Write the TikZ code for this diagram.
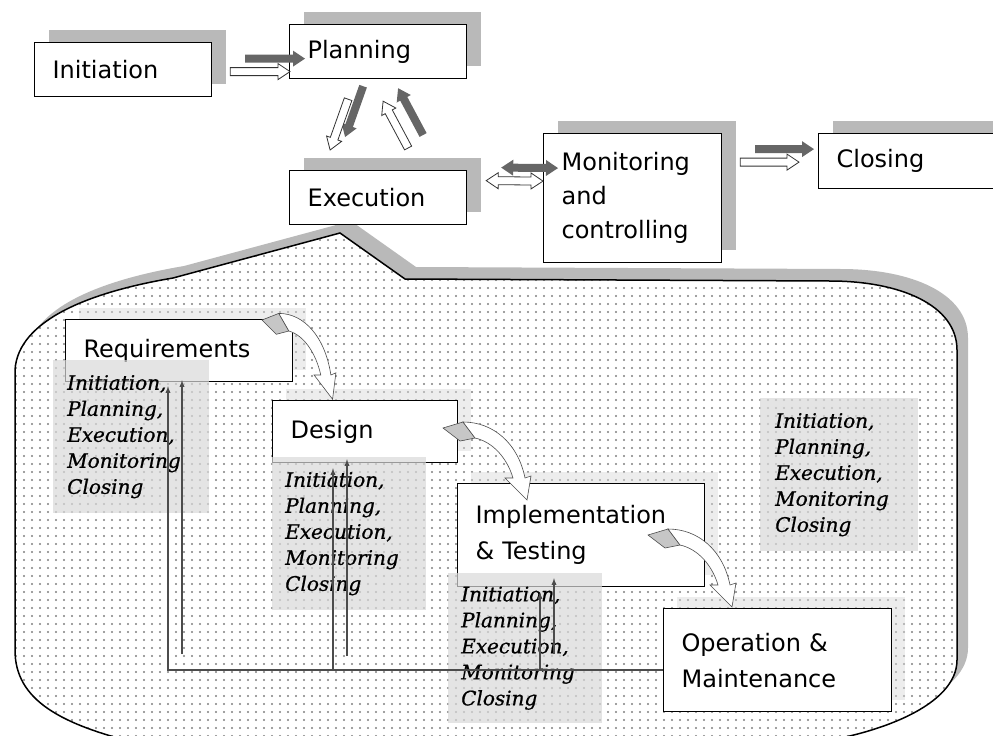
\documentclass[tikz,border=0pt]{standalone}
\usepackage{fontspec}
\setmainfont{DejaVu Sans}
\newfontfamily\phasefont[FakeBold=0.8]{DejaVu Serif}
\usepackage{xcolor}
\usetikzlibrary{calc,shadows,patterns.meta}

\newcommand{\phaselist}{Initiation,\\Planning,\\Execution,\\Monitoring\\Closing}

\tikzset{
  stage/.style={draw, fill=white, line width=1.2pt, anchor=north west,
    inner xsep=18pt, inner ysep=0pt, align=left, font=\fontsize{24}{36}\selectfont},
  topstage/.style={stage, drop shadow={shadow xshift=14pt, shadow yshift=13pt, fill=gray!55, opacity=1}},
  lowstage/.style={stage, drop shadow={shadow xshift=13pt, shadow yshift=12pt, fill=gray!30, opacity=0.45}},
  phases/.style={anchor=north west, fill=gray!30, fill opacity=0.7, text opacity=1,
    inner xsep=14pt, inner ysep=0pt, text width=128pt, minimum height=153pt, align=left,
    font=\phasefont\itshape\fontsize{20}{26}\selectfont},
  fbline/.style={draw=black!70, line width=1.3pt},
  arrowshadow/.style={preaction={fill=black!60, draw=none, transform canvas={shift={(15pt,13pt)}}}},
  blockarrow/.style={draw=black!80, fill=white, line width=0.8pt, arrowshadow,
    to path={
      -- ($(\tikztostart)!4pt!90:(\tikztotarget)$)
      -- ($($(\tikztotarget)!12pt!(\tikztostart)$)!4pt!90:(\tikztotarget)$)
      -- ($($(\tikztotarget)!12pt!(\tikztostart)$)!8pt!90:(\tikztotarget)$)
      -- (\tikztotarget)
      -- ($($(\tikztotarget)!12pt!(\tikztostart)$)!8pt!-90:(\tikztotarget)$)
      -- ($($(\tikztotarget)!12pt!(\tikztostart)$)!4pt!-90:(\tikztotarget)$)
      -- ($(\tikztostart)!4pt!-90:(\tikztotarget)$) -- cycle}},
  blockdarrow/.style={draw=black!80, fill=white, line width=0.8pt, arrowshadow,
    to path={
      -- ($($(\tikztostart)!12pt!(\tikztotarget)$)!8pt!90:(\tikztotarget)$)
      -- ($($(\tikztostart)!12pt!(\tikztotarget)$)!4pt!90:(\tikztotarget)$)
      -- ($($(\tikztotarget)!12pt!(\tikztostart)$)!4pt!90:(\tikztotarget)$)
      -- ($($(\tikztotarget)!12pt!(\tikztostart)$)!8pt!90:(\tikztotarget)$)
      -- (\tikztotarget)
      -- ($($(\tikztotarget)!12pt!(\tikztostart)$)!8pt!-90:(\tikztotarget)$)
      -- ($($(\tikztotarget)!12pt!(\tikztostart)$)!4pt!-90:(\tikztotarget)$)
      -- ($($(\tikztostart)!12pt!(\tikztotarget)$)!4pt!-90:(\tikztotarget)$)
      -- ($($(\tikztostart)!12pt!(\tikztotarget)$)!8pt!-90:(\tikztotarget)$)
      -- cycle}},
  turnarrow/.pic={
    \filldraw[fill=gray!45, draw=black!70, line width=0.6pt] (0,0) -- (20,-6) -- (32,10) -- (17,13) -- cycle;
    \filldraw[fill=white, draw=black!70, line width=0.6pt] (20,-6) .. controls (50,-6) and (75,15) .. (82,50)
      -- (88,48) -- (84,72) -- (62,50) -- (70,50) .. controls (64,30) and (50,14) .. (32,10) -- cycle;
  },
}

% outline of the software life cycle area
\def\lifecycle{(15,370) -- (15,650) .. controls (15,700) and (60,725) .. (145,745) -- (800,745)
  .. controls (880,735) and (957,705) .. (957,660) -- (957,350) .. controls (957,305) and (900,281) .. (830,281)
  -- (405,279) -- (340,233) -- (173,278) .. controls (90,292) and (18,320) .. (15,370) -- cycle}

\begin{document}
\begin{tikzpicture}[x=1pt, y=-1pt]
  \useasboundingbox (0,0) rectangle (993,736);
  \clip (0,0) rectangle (993,736);

  \fill[gray!55, xshift=11pt, yshift=12pt] \lifecycle;
  \fill[white] \lifecycle;
  \fill[pattern={Dots[distance=8pt, radius=1.1pt]}, pattern color=gray] \lifecycle;
  \draw[line width=1.5pt] \lifecycle;

  % project management process groups
  \node[topstage, text width=141pt, minimum height=54pt] (init) at (34,42) {Initiation};
  \node[topstage, text width=141pt, minimum height=54pt] (plan) at (289,24) {Planning};
  \node[topstage, text width=141pt, minimum height=54pt] (exec) at (289,170) {Execution};
  \node[topstage, text width=142pt, minimum height=129pt, font=\fontsize{24}{34}\selectfont] (mon) at (543,133) {Monitoring\\and\\controlling};
  \node[topstage, text width=151pt, minimum height=55pt] (close) at (818,133) {Closing};

  \draw[blockarrow] ($(init.east)+(18,2)$) to ($(plan.west)+(1,20)$);
  \draw[blockarrow] ($(plan.south)+(-30,20)$) to ($(exec.north)+(-48,-20)$);
  \draw[blockarrow] ($(exec.north)+(30,-22)$) to ($(plan.south)+(5,22)$);
  \draw[blockdarrow] ($(exec.east)+(19,-17)$) to ($(mon.west)+(0,-17)$);
  \draw[blockarrow] ($(mon.east)+(18,-36)$) to ($(close.west)+(-19,1)$);

  % life cycle phases
  \node[lowstage, text width=191pt, minimum height=62pt] (req) at (65,319) {Requirements};
  \node[lowstage, text width=149pt, minimum height=62pt] (des) at (272,400) {Design};
  \node[lowstage, text width=211pt, minimum height=103pt] (impl) at (457,483) {Implementation\\\& Testing};
  \node[lowstage, text width=192pt, minimum height=103pt] (op) at (663,608) {Operation \&\\Maintenance};

  \node[phases] (reqlist) at (53,360) {\phaselist};
  \node[phases, text width=128pt, inner xsep=13pt] (deslist) at (272,457) {\phaselist};
  \node[phases, minimum height=150pt, inner xsep=13pt] (impllist) at (448,573) {\phaselist};
  \node[phases, inner xsep=15pt] (extlist) at (760,398) {\phaselist};

  \pic[xscale=0.84, yscale=1.1] at (262,320) {turnarrow};
  \pic at (443,428) {turnarrow};
  \pic at (648,535) {turnarrow};

  % feedback from operation back to earlier phases
  \coordinate (fb) at ($(op.west)+(0,10)$);
  \coordinate (rfb) at ($(req.south west)+(103,4)$);
  \coordinate (dfb) at ($(des.south west)+(61,5)$);
  \coordinate (ifb) at ($(impl.south west)+(83,5)$);
  \coordinate (rfb2) at ($(req.south west)+(117,-2)$);
  \coordinate (dfb2) at ($(des.south west)+(75,-4)$);
  \coordinate (ifb2) at ($(impl.south west)+(97,-9)$);
  \draw[fbline, -latex] (fb) -| (rfb);
  \draw[fbline, -latex] (fb -| dfb) -- (dfb);
  \draw[fbline, -latex] (fb -| ifb) -- (ifb);
  \draw[fbline, -latex] ($(rfb2)+(0,274)$) -- (rfb2);
  \draw[fbline, -latex] ($(dfb2)+(0,197)$) -- (dfb2);
  \draw[fbline, -latex] ($(ifb2)+(0,76)$) -- (ifb2);
\end{tikzpicture}
\end{document}
